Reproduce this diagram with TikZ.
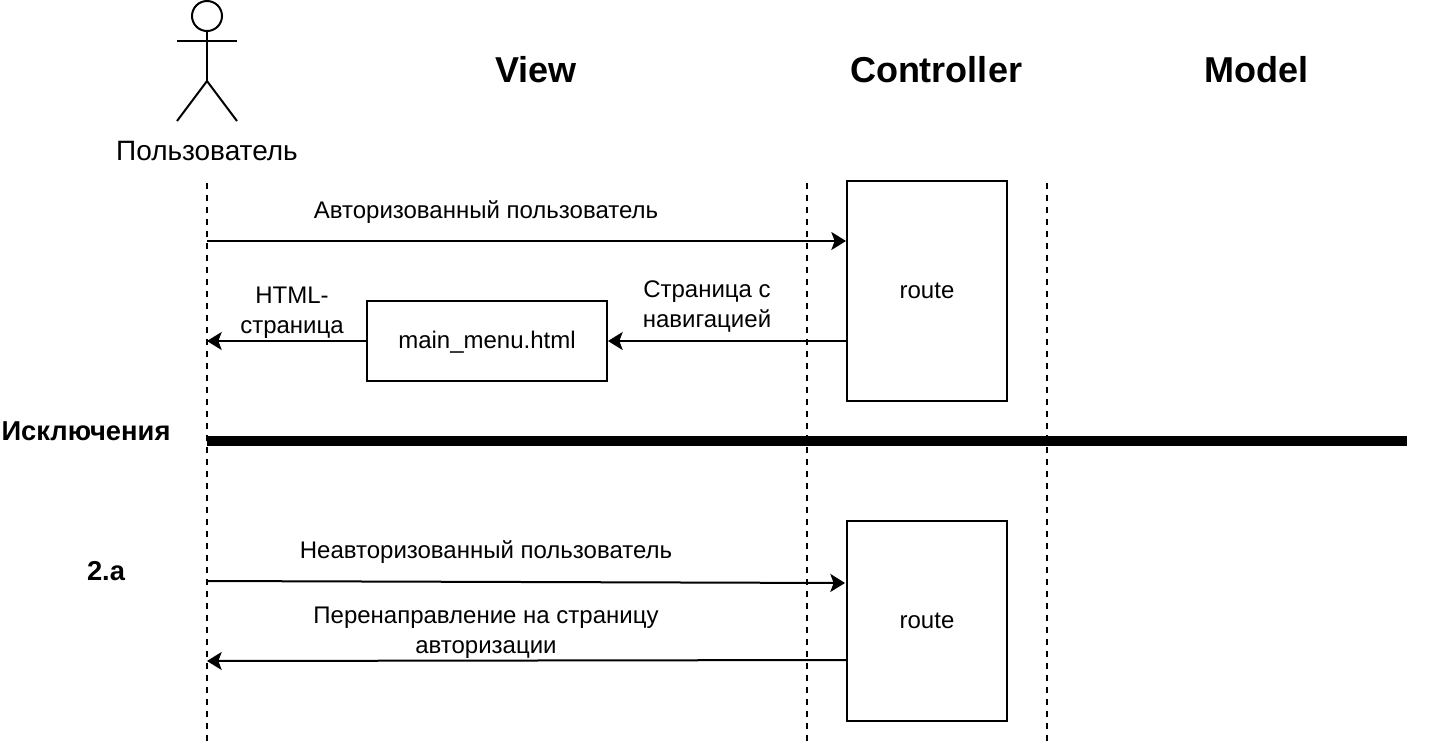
\documentclass[tikz,border=0pt]{standalone}
\usepackage{fontspec}
\setmainfont{Liberation Sans}
\usetikzlibrary{arrows.meta,positioning}
\tikzset{
  box/.style={draw,line width=1.5pt,fill=white,inner sep=0pt},
  lifeline/.style={line width=1.5pt,dash pattern=on 4.5pt off 4.5pt},
  flow/.style={line width=1.5pt,-{Stealth[length=11pt,width=13.5pt,inset=2.5pt]}},
  stick/.style={line width=1.5pt},
  txt/.style={font=\fontsize{18}{22.5}\selectfont,align=center,inner sep=0pt},
  lane/.style={font=\fontsize{27}{32}\selectfont\bfseries,inner sep=0pt},
  sidetxt/.style={font=\fontsize{20.5}{24}\selectfont\bfseries,inner sep=0pt}
}
\begin{document}
\begin{tikzpicture}[x=0.75pt,y=-0.75pt]
\useasboundingbox (0,0) rectangle (1448,744);
% lifelines
\coordinate (user top) at (207,183);
\coordinate (user end) at (207,744);
\coordinate (view top) at (807,183);
\coordinate (view end) at (807,744);
\coordinate (ctrl top) at (1047,183);
\coordinate (ctrl end) at (1047,744);
\draw[lifeline] (user top) -- (user end);
\draw[lifeline] (view top) -- (view end);
\draw[lifeline] (ctrl top) -- (ctrl end);
% actor
\node[circle,draw,line width=1.5pt,minimum size=22.5pt,inner sep=0pt] (head) at (207,16) {};
\coordinate (hip) at (207,81);
\coordinate (armL) at (177,41);
\coordinate (armR) at (237,41);
\coordinate (footL) at (177,121);
\coordinate (footR) at (237,121);
\draw[stick] (head.south) -- (hip);
\draw[stick] (armL) -- (armR);
\draw[stick] (footL) -- (hip) -- (footR);
\node[font=\fontsize{21}{24}\selectfont,inner sep=0pt] (user) at (207,151) {Пользователь};
% headers
\node[lane] (view) at (536,70) {View};
\node[lane] (controller) at (936,70) {Controller};
\node[lane] (model) at (1256,70) {Model};
% boxes
\node[box,minimum width=120pt,minimum height=165pt,txt] (route1) at (927,291) {route};
\node[box,minimum width=180pt,minimum height=60pt,txt,text height=15pt] (menu) at (487,341) {main\_menu.html};
\node[box,minimum width=120pt,minimum height=150pt,txt] (route2) at (927,621) {route};
% main flow
\coordinate (auth) at (207,241);
\draw[flow] (auth) -- (auth -| route1.west);
\node[txt] (authtxt) at (486,212) {Авторизованный пользователь};
\coordinate (back) at (207,341);
\draw[flow] (route1.west |- back) -- (back -| menu.east);
\draw[flow] (back -| menu.west) -- (back);
\node[txt] (navtxt) at (707,307) {Страница с\\навигацией};
\node[txt] (htmltxt) at (292,313) {HTML-\\страница};
% exceptions
\coordinate (sepL) at (207,441);
\coordinate (sepR) at (1407,441);
\draw[line width=7pt] (sepL) -- (sepR);
\node[sidetxt] (exc) at (86,431) {Исключения};
\node[sidetxt] (case) at (106,571) {2.a};
% flow 2.a
\coordinate (unauth) at (207,581);
\coordinate (unauthend) at (845,583);
\draw[flow] (unauth) -- (unauthend);
\node[txt] (unauthtxt) at (486,552) {Неавторизованный пользователь};
\coordinate (redir) at (207,661);
\coordinate (redirst) at (847,660);
\draw[flow] (redirst) -- (redir);
\node[txt] (redirtxt) at (486,633) {Перенаправление на страницу\\авторизации};
\end{tikzpicture}
\end{document}
